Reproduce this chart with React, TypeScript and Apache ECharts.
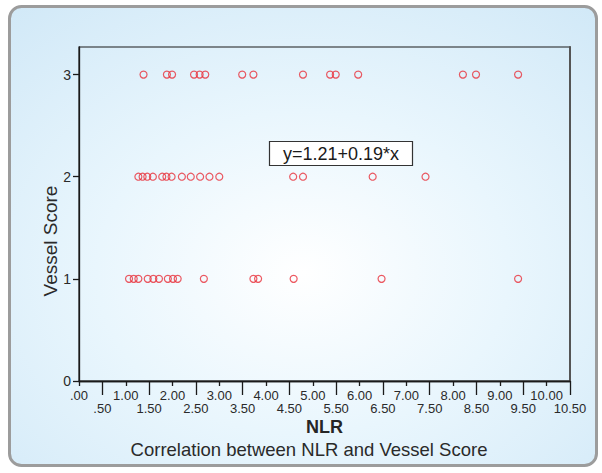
import React, { useEffect, useRef } from "react";
import * as echarts from "echarts";

const score1X = [1.07, 1.17, 1.27, 1.47, 1.59, 1.71, 1.9, 2.01, 2.11, 2.67, 3.73, 3.83, 4.59, 6.47, 9.39];
const score2X = [1.27, 1.36, 1.46, 1.58, 1.78, 1.87, 1.98, 2.2, 2.39, 2.59, 2.79, 3.0, 4.58, 4.79, 6.28, 7.41];
const score3X = [1.38, 1.88, 1.99, 2.46, 2.58, 2.7, 3.49, 3.73, 4.79, 5.37, 5.49, 5.97, 8.21, 8.49, 9.39];

const xMajorTicks = [0, 1, 2, 3, 4, 5, 6, 7, 8, 9, 10];
const xHalfTicks = [0.5, 1.5, 2.5, 3.5, 4.5, 5.5, 6.5, 7.5, 8.5, 9.5, 10.5];
const yTicks = [0, 1, 2, 3];

const equationText = "y=1.21+0.19*x";
const xTitle = "NLR";
const yTitle = "Vessel Score";
const caption = "Correlation between NLR and Vessel Score";

const tickFont = "'Liberation Sans Narrow', 'Arial Narrow', 'Liberation Sans', sans-serif";
const mainFont = "'Liberation Sans', Arial, sans-serif";

const fmt = (v: number) => {
  const s = v.toFixed(2);
  return v < 1 ? s.slice(1) : s;
};

export default function App() {
  const ref = useRef<HTMLDivElement>(null);
  useEffect(() => {
    if (!ref.current) return;
    const chart = echarts.init(ref.current, undefined, { renderer: "svg" });
    const points = [
      ...score1X.map((x) => [x, 1]),
      ...score2X.map((x) => [x, 2]),
      ...score3X.map((x) => [x, 3]),
    ];
    const axisCommon = {
      type: "value" as const,
      min: 0,
      max: 10.5,
      splitLine: { show: false },
      axisLine: { show: true, onZero: false, lineStyle: { color: "#1a1a1a", width: 1.3 } },
    };
    chart.setOption({
      animation: false,
      backgroundColor: "#ffffff",
      grid: {
        left: 79,
        right: 32,
        top: 47,
        bottom: 92,
        show: true,
        borderColor: "#1a1a1a",
        borderWidth: 1.2,
        backgroundColor: "transparent",
      },
      graphic: [
        {
          type: "rect",
          z: -100,
          shape: { x: 9.5, y: 6.5, width: 587, height: 459, r: 12 },
          style: {
            fill: {
              type: "radial",
              x: 0.5,
              y: 0.58,
              r: 0.78,
              colorStops: [
                { offset: 0, color: "#ffffff" },
                { offset: 0.45, color: "#e9f6fd" },
                { offset: 1, color: "#d0e8f7" },
              ],
            },
            stroke: "#9c9c9c",
            lineWidth: 3,
          },
        },
        {
          type: "text",
          z: 10,
          x: 50,
          y: 241,
          rotation: Math.PI / 2,
          style: {
            text: yTitle,
            fill: "#2a2a2a",
            font: `19px ${mainFont}`,
            align: "center",
            verticalAlign: "middle",
          },
        },
        {
          type: "text",
          z: 10,
          x: 324.5,
          y: 427,
          style: {
            text: xTitle,
            fill: "#262626",
            font: `bold 18px ${mainFont}`,
            align: "center",
            verticalAlign: "middle",
          },
        },
        {
          type: "text",
          z: 10,
          x: 309,
          y: 449,
          style: {
            text: caption,
            fill: "#2a2a2a",
            font: `18.5px ${mainFont}`,
            align: "center",
            verticalAlign: "middle",
          },
        },
        {
          type: "group",
          z: 10,
          children: [
            {
              type: "rect",
              shape: { x: 269.5, y: 141.5, width: 143, height: 24 },
              style: { fill: "#ffffff", stroke: "#333333", lineWidth: 1.2 },
            },
            {
              type: "text",
              x: 341,
              y: 153.5,
              style: {
                text: equationText,
                fill: "#1a1a1a",
                font: `18px ${mainFont}`,
                align: "center",
                verticalAlign: "middle",
              },
            },
          ],
        },
      ],
      xAxis: [
        {
          ...axisCommon,
          position: "bottom",
          interval: 1,
          axisTick: {
            show: true,
            length: 5,
            customValues: xMajorTicks,
            lineStyle: { color: "#1a1a1a", width: 1.3 },
          },
          axisLabel: {
            customValues: xMajorTicks,
            margin: 8,
            fontSize: 13,
            fontFamily: tickFont,
            color: "#2a2a2a",
            formatter: (v: number) => fmt(v),
          },
        },
        {
          ...axisCommon,
          position: "bottom",
          interval: 0.5,
          axisTick: {
            show: true,
            length: 14,
            customValues: xHalfTicks,
            lineStyle: { color: "#1a1a1a", width: 1.3 },
          },
          axisLabel: {
            customValues: xHalfTicks,
            margin: 21,
            fontSize: 13,
            fontFamily: tickFont,
            color: "#2a2a2a",
            formatter: (v: number) => fmt(v),
          },
        },
      ],
      yAxis: [
        {
          type: "value",
          min: 0,
          max: 3.27,
          interval: 1,
          position: "left",
          splitLine: { show: false },
          axisLine: { show: true, onZero: false, lineStyle: { color: "#1a1a1a", width: 1.3 } },
          axisTick: {
            show: true,
            length: 6,
            customValues: yTicks,
            lineStyle: { color: "#1a1a1a", width: 1.3 },
          },
          axisLabel: {
            customValues: yTicks,
            margin: 8,
            fontSize: 14,
            fontFamily: tickFont,
            color: "#2a2a2a",
          },
        },
        {
          type: "value",
          min: 0,
          max: 3.27,
          interval: 1,
          position: "right",
          splitLine: { show: false },
          axisLine: { show: true, onZero: false, lineStyle: { color: "#555555", width: 2 } },
          axisTick: { show: false },
          axisLabel: { show: false },
        },
      ],
      series: [
        {
          type: "scatter",
          xAxisIndex: 0,
          yAxisIndex: 0,
          data: points,
          symbol: "circle",
          symbolSize: 7,
          itemStyle: { color: "rgba(0,0,0,0)", borderColor: "#e8303a", borderWidth: 1.2 },
          z: 5,
        },
      ],
    });
    return () => chart.dispose();
  }, []);
  return (
    <div
      ref={ref}
      style={{ position: "fixed", left: 0, top: 0, width: 602, height: 473 }}
    />
  );
}
